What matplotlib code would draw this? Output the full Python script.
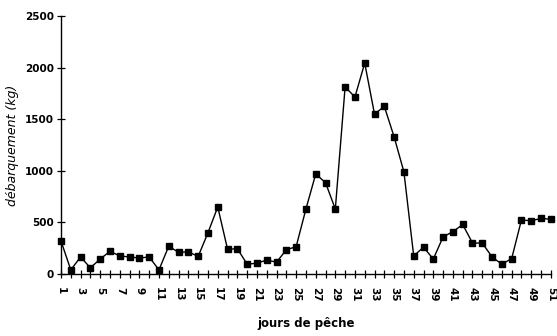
"""Daily landings over the fishing season."""

import matplotlib

matplotlib.use("Agg")
import matplotlib.pyplot as plt

days = list(range(1, 52))
landings_kg = [
    320, 40, 165, 60, 145, 220, 175, 165, 155, 165,
    40, 270, 210, 215, 170, 400, 650, 240, 245, 95,
    105, 135, 115, 235, 265, 630, 970, 885, 630, 1815,
    1715, 2045, 1550, 1625, 1330, 990, 175, 260, 145, 360,
    410, 480, 300, 300, 165, 95, 150, 525, 515, 540,
    530,
]
y_ticks = [0, 500, 1000, 1500, 2000, 2500]
x_labels = days[::2]


def main() -> None:
    fig = plt.figure(figsize=(5.57, 3.36), dpi=100)
    ax = fig.add_axes([0.1095, 0.1845, 0.8795, 0.7675])

    ax.plot(days, landings_kg, color="black", linewidth=1.0,
            marker="s", markersize=4.5, markerfacecolor="black",
            markeredgecolor="black", clip_on=False)

    ax.set_xlim(1, 51)
    ax.set_ylim(0, 2500)
    ax.spines["top"].set_visible(False)
    ax.spines["right"].set_visible(False)
    for side in ("left", "bottom"):
        ax.spines[side].set_linewidth(1.0)

    ax.set_yticks(y_ticks)
    ax.set_yticklabels([str(v) for v in y_ticks], fontsize=7.5, fontweight="bold")
    ax.set_xticks(days)
    ax.set_xticklabels([str(d) if d in x_labels else "" for d in days],
                       rotation=270, fontsize=7.5, fontweight="bold")
    ax.tick_params(axis="both", direction="inout", length=6, width=0.9, pad=2)
    ax.tick_params(axis="x", pad=6)

    ax.set_ylabel("débarquement (kg)", fontsize=9, style="italic", labelpad=4)
    ax.set_xlabel("jours de pêche", fontsize=8.5, fontweight="bold", labelpad=11)

    fig.savefig("out.png", dpi=100)
    plt.close(fig)


if __name__ == "__main__":
    main()
